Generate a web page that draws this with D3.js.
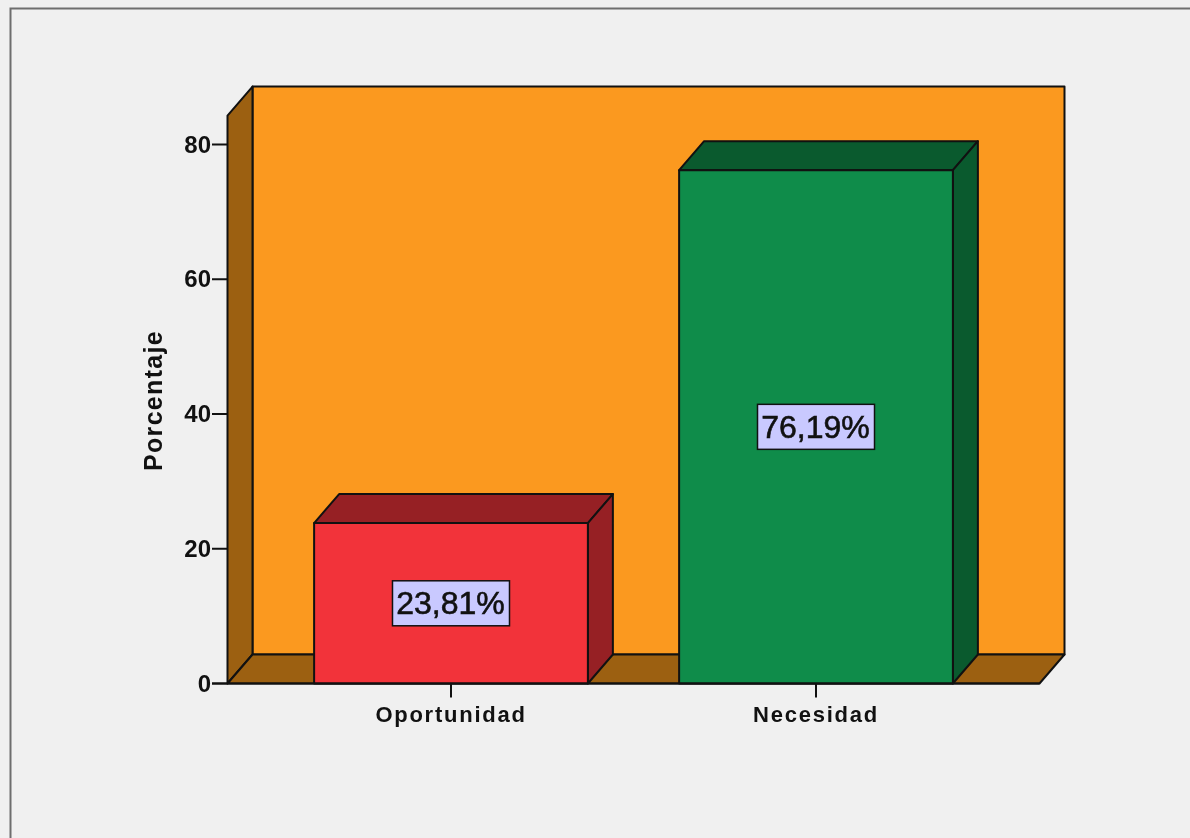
<!DOCTYPE html>
<html>
<head>
<meta charset="utf-8">
<script src="https://cdnjs.cloudflare.com/ajax/libs/d3/7.9.0/d3.min.js"></script>
<style>
html,body{margin:0;padding:0;background:#f0f0f0;overflow:hidden}
svg{display:block;filter:blur(0.5px)}
text{font-family:"Liberation Sans",Arial,sans-serif;fill:#111}
</style>
</head>
<body>
<svg id="chart" width="1190" height="838"></svg>
<script>
const categories = ["Oportunidad", "Necesidad"];
const percentages = [23.81, 76.19];
const valueLabels = ["23,81%", "76,19%"];
const frontColors = ["#f2333a", "#0f8c4a"];
const sideColors = ["#962024", "#0a5a2e"];
const yTicks = [0, 20, 40, 60, 80];
const axisTitle = "Porcentaje";
const wallColor = "#fb991f";
const floorColor = "#9c6011";

const svg = d3.select("#chart");
const depthX = 25, depthY = 29;
const stroke = "#111";

const x = d3.scaleBand().domain(categories).range([227.5, 1039.5]).paddingInner(0.25).paddingOuter(0.2373);
const y = d3.scaleLinear().domain([0, 80]).range([683.5, 144.5]);
const yMax = 84.3;

const poly = (pts, fill) => svg.append("polygon")
  .attr("points", pts.map(p => p.join(",")).join(" "))
  .attr("fill", fill).attr("stroke", stroke).attr("stroke-width", 2).attr("stroke-linejoin", "round");

// frame
svg.append("path").attr("d", "M10.5,838V8.5H1190").attr("fill", "none").attr("stroke", "#6e6e6e").attr("stroke-width", 2);

// walls
const xL = x.range()[0], xR = x.range()[1], y0 = y(0), yT = y(yMax);
poly([[xL + depthX, yT - depthY], [xR + depthX, yT - depthY], [xR + depthX, y0 - depthY], [xL + depthX, y0 - depthY]], wallColor);
poly([[xL, yT], [xL + depthX, yT - depthY], [xL + depthX, y0 - depthY], [xL, y0]], floorColor);
poly([[xL, y0], [xL + depthX, y0 - depthY], [xR + depthX, y0 - depthY], [xR, y0]], floorColor);

// bars
categories.forEach((c, i) => {
  const l = x(c), r = l + x.bandwidth(), t = y(percentages[i]);
  poly([[l, t], [l + depthX, t - depthY], [r + depthX, t - depthY], [r, t]], sideColors[i]);
  poly([[r, t], [r + depthX, t - depthY], [r + depthX, y0 - depthY], [r, y0]], sideColors[i]);
  poly([[l, t], [r, t], [r, y0], [l, y0]], frontColors[i]);
  const cx = l + x.bandwidth() / 2, cy = (t + y0) / 2;
  svg.append("rect").attr("x", cx - 58.5).attr("y", cy - 22.5).attr("width", 117).attr("height", 45)
    .attr("fill", "#c9c9ff").attr("stroke", stroke).attr("stroke-width", 1.5);
  svg.append("text").attr("x", cx - 0.5).attr("y", cy + 11).attr("text-anchor", "middle")
    .attr("font-size", 32).attr("stroke", "#111").attr("stroke-width", 0.6).text(valueLabels[i]);
});

// axes
svg.append("line").attr("x1", 212).attr("x2", xR).attr("y1", y0).attr("y2", y0).attr("stroke", stroke).attr("stroke-width", 2);
yTicks.forEach(t => {
  svg.append("line").attr("x1", 212).attr("x2", xL).attr("y1", y(t)).attr("y2", y(t)).attr("stroke", stroke).attr("stroke-width", 2);
  svg.append("text").attr("x", 211).attr("y", y(t) + 8).attr("text-anchor", "end")
    .attr("font-size", 24).attr("font-weight", "bold").text(t);
});
categories.forEach(c => {
  const cx = x(c) + x.bandwidth() / 2;
  svg.append("line").attr("x1", cx).attr("x2", cx).attr("y1", y0).attr("y2", y0 + 14).attr("stroke", stroke).attr("stroke-width", 2);
  svg.append("text").attr("x", cx).attr("y", 722).attr("text-anchor", "middle")
    .attr("font-size", 22).attr("font-weight", "bold").attr("letter-spacing", 1.75).text(c);
});
svg.append("text").attr("transform", "translate(161.5,400.5) rotate(-90)").attr("text-anchor", "middle")
  .attr("font-size", 25).attr("font-weight", "bold").attr("letter-spacing", 1.3).text(axisTitle);
</script>
</body>
</html>
